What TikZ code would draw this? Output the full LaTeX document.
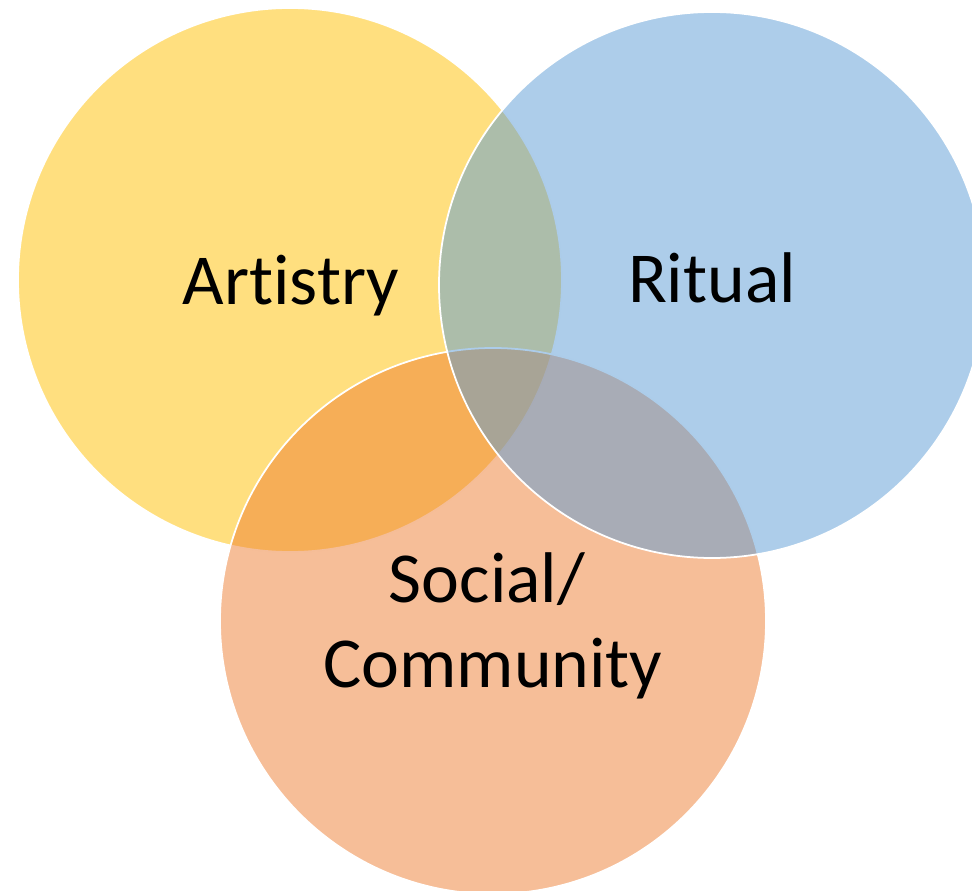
\documentclass[tikz,border=0pt]{standalone}
\usepackage{fontspec}
\setmainfont{Carlito}[Ligatures=NoCommon]

\definecolor{venngold}{HTML}{FFC000}
\definecolor{vennblue}{HTML}{5B9BD5}
\definecolor{vennorange}{HTML}{ED7D31}

\tikzset{
  venn/.style={draw=white, line width=0.5pt, fill opacity=0.5},
  vennlabel/.style={font=\fontsize{20.4}{23.8}\selectfont, text=black, inner sep=0pt}
}

\begin{document}
\begin{tikzpicture}[x=0.01cm,y=-0.01cm]
      \useasboundingbox (0,0) rectangle (972,891);
      \clip (0,0) rectangle (972,891);
      % gold first, then orange, blue on top
      \filldraw [venn, fill=venngold] (290,280) circle[radius=272];
      \filldraw [venn, fill=vennorange] (493,621) circle[radius=273];
      \filldraw [venn, fill=vennblue] (712,285) circle[radius=273];

      \node (artistry) [vennlabel, anchor=base] at (291,305) {Artistry};
      \node (ritual) [vennlabel, anchor=base] at (712,303) {Ritual};
      \node (social) [vennlabel, anchor=base] at (487,603) {Social/};
      \node (community) [vennlabel, anchor=base] at (493,687) {Community};
\end{tikzpicture}
\end{document}
